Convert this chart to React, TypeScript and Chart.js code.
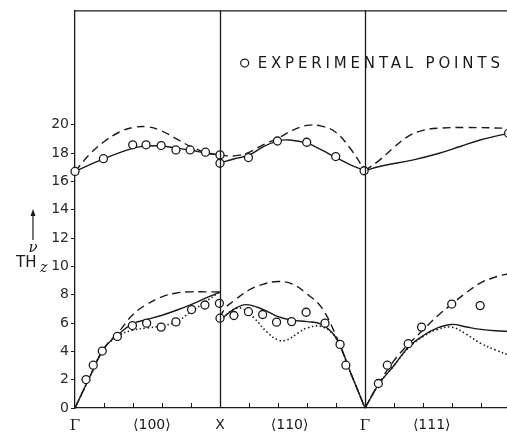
import React, { useEffect, useRef } from 'react';
import { Chart, registerables } from 'chart.js';

Chart.register(...registerables);

type P = [number, number];

// ---- axis data ----
const yTickMax = 20;
const yMax = 28.07;
const xMax = 15;
const symmetryLabels = ['Γ', '⟨100⟩', 'X', '⟨110⟩', 'Γ', '⟨111⟩', 'L'];
const symmetryLabelPos = [0, 2.65, 5, 7.4, 10, 12.3, 15];
const innerTicks = [1, 2, 3, 4, 6, 7, 8, 9, 11, 12, 13, 14];
const boundaryLines = [5, 10];
const legendText = 'EXPERIMENTAL POINTS';

// ---- upper (optical) branch ----
const upperSolidGX: P[] = [[0, 16.7], [1, 17.6], [2, 18.35], [2.5, 18.5], [3, 18.5], [3.5, 18.35], [4, 18.2], [4.5, 18.0], [5, 17.85]];
const upperDashedGX: P[] = [[0, 16.7], [0.5, 17.9], [1, 18.8], [1.5, 19.45], [2, 19.8], [2.5, 19.85], [3, 19.55], [3.5, 19.0], [4, 18.45], [4.5, 18.05], [5, 17.85]];
const upperSolidXG: P[] = [[5, 17.3], [5.5, 17.6], [6, 17.85], [6.5, 18.45], [7, 18.86], [7.4, 18.92], [8, 18.7], [8.5, 18.22], [9, 17.68], [9.5, 17.17], [10, 16.75]];
const upperDashedXG: P[] = [[5, 17.85], [5.5, 17.8], [6, 18.05], [6.5, 18.6], [7, 19.05], [7.5, 19.6], [8, 19.95], [8.5, 19.9], [9, 19.45], [9.5, 18.3], [10, 16.75]];
const upperSolidGL: P[] = [[10, 16.75], [10.5, 17.05], [11.67, 17.52], [12.5, 17.95], [13.28, 18.46], [13.97, 18.92], [15, 19.42]];
const upperDashedGL: P[] = [[10, 16.75], [10.5, 17.5], [11, 18.4], [11.5, 19.2], [12, 19.6], [12.5, 19.75], [13.5, 19.8], [15, 19.75]];

// ---- lower (acoustic) branches ----
const lowerSolidGX: P[] = [[0, 0], [0.5, 2.15], [1, 4.2], [1.5, 5.2], [2, 5.95], [2.5, 6.25], [3, 6.55], [3.5, 6.9], [4, 7.3], [4.5, 7.75], [5, 8.2]];
const lowerDottedGX: P[] = [[0, 0], [0.5, 2.15], [1, 4.2], [1.5, 5.1], [2, 5.5], [2.5, 5.65], [3, 5.8], [3.5, 6.1], [4, 6.8], [4.5, 7.5], [5, 8.2]];
const lowerDashedGX: P[] = [[0, 0], [0.5, 2.15], [1, 4.2], [1.5, 5.35], [2, 6.6], [2.5, 7.35], [3, 7.85], [3.5, 8.12], [4, 8.2], [4.5, 8.2], [5, 8.2]];
const lowerSolidXG: P[] = [[5, 6.2], [5.5, 7.0], [5.9, 7.3], [6.5, 6.95], [7, 6.45], [7.5, 6.2], [8, 6.1], [8.5, 5.9], [9, 4.95], [9.5, 2.5], [10, 0]];
const lowerDottedXG: P[] = [[5, 6.2], [5.5, 7.0], [5.8, 7.0], [6.2, 6.3], [6.6, 5.4], [7, 4.8], [7.3, 4.8], [7.7, 5.3], [8, 5.65], [8.5, 5.75], [9, 4.95], [9.5, 2.5], [10, 0]];
const lowerDashedXG: P[] = [[5, 6.4], [5.2, 7.1], [5.5, 7.6], [6, 8.33], [6.5, 8.75], [7, 8.93], [7.5, 8.75], [8, 8.05], [8.5, 7.1], [9, 5.1], [9.5, 2.5], [10, 0]];
const lowerSolidGL: P[] = [[10, 0], [10.5, 1.75], [11, 3.0], [11.5, 4.3], [12, 5.1], [12.5, 5.65], [13, 5.9], [13.5, 5.72], [14, 5.55], [14.5, 5.45], [15, 5.4]];
const lowerDottedGL: P[] = [[10, 0], [10.5, 1.75], [11, 3.0], [11.5, 4.25], [12, 5.05], [12.5, 5.55], [13, 5.7], [13.5, 5.2], [14, 4.55], [14.5, 4.1], [15, 3.7]];
const lowerDashedGL: P[] = [[10, 0], [10.5, 1.8], [11, 3.35], [11.5, 4.5], [12, 5.5], [12.5, 6.5], [13, 7.35], [13.5, 8.15], [14, 8.85], [14.5, 9.25], [15, 9.5]];

// ---- experimental points ----
const upperPointsX = [0, 0.98, 1.99, 2.45, 2.97, 3.48, 3.97, 4.5, 5, 5, 5.98, 6.98, 7.99, 8.99, 9.97, 14.95];
const upperPointsY = [16.7, 17.6, 18.58, 18.58, 18.53, 18.22, 18.22, 18.06, 17.87, 17.28, 17.68, 18.85, 18.76, 17.75, 16.75, 19.4];
const lowerPointsX = [0.38, 0.63, 0.94, 1.46, 1.98, 2.47, 2.97, 3.48, 4.02, 4.48, 4.98, 5.0, 5.48, 5.98, 6.47, 6.95, 7.47, 7.97, 8.62, 9.14, 9.34, 10.46, 10.77, 11.49, 11.95, 12.99, 13.97];
const lowerPointsY = [2.01, 3.02, 4.02, 5.05, 5.82, 5.99, 5.71, 6.08, 6.95, 7.27, 7.39, 6.34, 6.53, 6.8, 6.6, 6.06, 6.1, 6.76, 5.99, 4.49, 3.02, 1.73, 3.02, 4.54, 5.71, 7.34, 7.23];

const INK = '#1a1a1a';
const SANS = '"DejaVu Sans", sans-serif';

const toXY = (arr: P[]) => arr.map(([x, y]) => ({ x, y }));
const zipXY = (xs: number[], ys: number[]) => xs.map((x, i) => ({ x, y: ys[i] }));

const lineDs = (data: P[], style: 'solid' | 'dashed' | 'dotted') => ({
  type: 'line' as const,
  data: toXY(data),
  borderColor: INK,
  borderWidth: style === 'dotted' ? 1.6 : 1.4,
  borderDash: style === 'dashed' ? [8, 5] : style === 'dotted' ? [1.5, 2.5] : [],
  pointRadius: 0,
  tension: 0.4,
  fill: false,
  clip: false as const,
  order: 2,
});

const pointDs = (xs: number[], ys: number[]) => ({
  type: 'line' as const,
  data: zipXY(xs, ys),
  showLine: false,
  pointRadius: 4,
  pointBorderWidth: 1.3,
  pointBackgroundColor: '#ffffff',
  pointBorderColor: INK,
  borderColor: INK,
  clip: false as const,
  order: 0,
});

const decorPlugin = {
  id: 'decor',
  afterDraw(chart: any) {
    const { ctx, chartArea, scales } = chart;
    const xs = scales.x;
    const ys = scales.y;
    ctx.save();
    ctx.strokeStyle = INK;
    ctx.fillStyle = INK;
    ctx.lineWidth = 1.3;
    // top frame line
    ctx.beginPath();
    ctx.moveTo(chartArea.left, chartArea.top + 0.5);
    ctx.lineTo(chartArea.right, chartArea.top + 0.5);
    ctx.stroke();
    // symmetry point verticals
    for (const b of boundaryLines) {
      const px = Math.round(xs.getPixelForValue(b)) + 0.5;
      ctx.beginPath();
      ctx.moveTo(px, ys.getPixelForValue(0));
      ctx.lineTo(px, chartArea.top);
      ctx.stroke();
    }
    // inward ticks on bottom axis
    ctx.lineWidth = 1;
    const by = ys.getPixelForValue(0);
    for (const t of innerTicks) {
      const px = Math.round(xs.getPixelForValue(t)) + 0.5;
      ctx.beginPath();
      ctx.moveTo(px, by);
      ctx.lineTo(px, by - 5);
      ctx.stroke();
    }
    // legend
    const lx = xs.getPixelForValue(5.85);
    const ly = ys.getPixelForValue(24.35);
    ctx.lineWidth = 1.2;
    ctx.beginPath();
    ctx.arc(lx, ly, 4, 0, Math.PI * 2);
    ctx.stroke();
    ctx.font = `15px ${SANS}`;
    ctx.textBaseline = 'middle';
    ctx.textAlign = 'left';
    const startX = lx + 13;
    const endX = 500;
    const w0 = ctx.measureText(legendText).width;
    const spacing = Math.max(0, (endX - startX - w0) / (legendText.length - 1));
    (ctx as any).letterSpacing = `${spacing.toFixed(2)}px`;
    ctx.fillText(legendText, startX, ly + 1);
    (ctx as any).letterSpacing = '0px';
    // y-axis title: arrow, nu, THz
    const ax = 33;
    ctx.lineWidth = 1.2;
    ctx.beginPath();
    ctx.moveTo(ax, 240);
    ctx.lineTo(ax, 213);
    ctx.stroke();
    ctx.beginPath();
    ctx.moveTo(ax, 209);
    ctx.lineTo(ax - 2.5, 216);
    ctx.lineTo(ax + 2.5, 216);
    ctx.closePath();
    ctx.fill();
    ctx.textAlign = 'center';
    ctx.font = `italic 15px "DejaVu Serif", serif`;
    ctx.fillText('ν', ax, 248);
    ctx.textAlign = 'left';
    ctx.font = `15px ${SANS}`;
    ctx.fillText('TH', 16, 263);
    ctx.font = `italic 14px "DejaVu Serif", serif`;
    ctx.fillText('z', 40, 268);
    ctx.restore();
  },
};

export default function App() {
  const ref = useRef<HTMLCanvasElement | null>(null);
  useEffect(() => {
    if (!ref.current) return;
    const chart = new Chart(ref.current, {
      type: 'line',
      data: {
        datasets: [
          pointDs(upperPointsX, upperPointsY),
          pointDs(lowerPointsX, lowerPointsY),
          lineDs(upperSolidGX, 'solid'),
          lineDs(upperDashedGX, 'dashed'),
          lineDs(upperSolidXG, 'solid'),
          lineDs(upperDashedXG, 'dashed'),
          lineDs(upperSolidGL, 'solid'),
          lineDs(upperDashedGL, 'dashed'),
          lineDs(lowerSolidGX, 'solid'),
          lineDs(lowerDottedGX, 'dotted'),
          lineDs(lowerDashedGX, 'dashed'),
          lineDs(lowerSolidXG, 'solid'),
          lineDs(lowerDottedXG, 'dotted'),
          lineDs(lowerDashedXG, 'dashed'),
          lineDs(lowerSolidGL, 'solid'),
          lineDs(lowerDottedGL, 'dotted'),
          lineDs(lowerDashedGL, 'dashed'),
        ] as any,
      },
      options: {
        animation: false,
        responsive: false,
        devicePixelRatio: 1,
        layout: { padding: { left: 0, right: 20, top: 8, bottom: 0 } },
        plugins: { legend: { display: false }, tooltip: { enabled: false } },
        scales: {
          x: {
            type: 'linear',
            min: 0,
            max: xMax,
            afterFit: (s: any) => { s.height = 28; },
            afterBuildTicks: (s: any) => { s.ticks = symmetryLabelPos.map((v) => ({ value: v })); },
            border: { display: true, color: INK, width: 1.3 },
            grid: { drawOnChartArea: false, drawTicks: false },
            ticks: {
              autoSkip: false,
              maxRotation: 0,
              padding: 9,
              color: INK,
              font: (c: any) => {
                const idx = symmetryLabelPos.indexOf(c.tick?.value);
                const lab = symmetryLabels[idx] || '';
                return lab === 'Γ'
                  ? { family: '"DejaVu Serif", serif', size: 15 }
                  : { family: '"DejaVu Sans", sans-serif', size: 14 };
              },
              callback: (v: any) => {
                const idx = symmetryLabelPos.indexOf(Number(v));
                return idx >= 0 ? symmetryLabels[idx] : null;
              },
            },
          },
          y: {
            type: 'linear',
            min: 0,
            max: yMax,
            afterFit: (s: any) => { s.width = 75; },
            border: { display: true, color: INK, width: 1.3 },
            grid: { drawOnChartArea: false, drawTicks: true, tickLength: 4, color: INK },
            ticks: {
              stepSize: 2,
              padding: 2,
              color: '#2a2a2a',
              font: { family: SANS, size: 14 },
              callback: (v: any) => (Number(v) <= yTickMax && Number(v) % 2 === 0 ? String(v) : null),
            },
          },
        },
      },
      plugins: [decorPlugin],
    } as any);
    return () => chart.destroy();
  }, []);

  return (
    <div style={{ position: 'fixed', left: 0, top: 0, width: 507, height: 436, overflow: 'hidden', background: '#fff' }}>
      <canvas ref={ref} width={530} height={436} style={{ width: 530, height: 436, display: 'block' }} />
    </div>
  );
}
